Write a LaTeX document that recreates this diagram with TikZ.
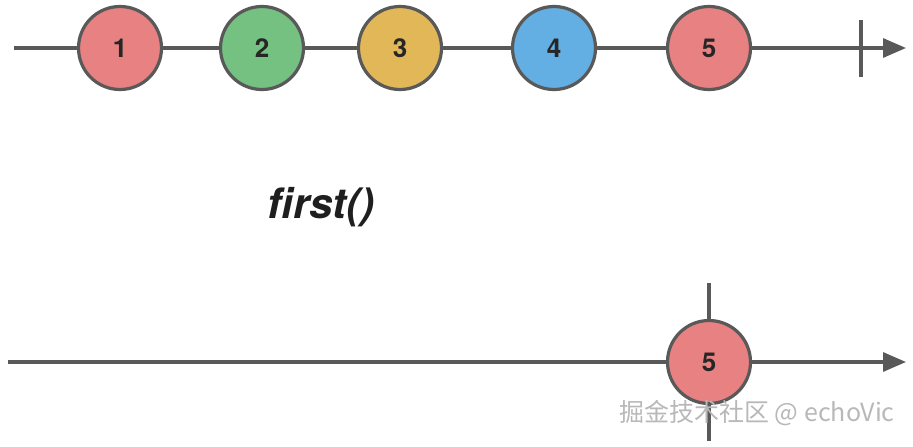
\documentclass[tikz,border=0pt]{standalone}
\usepackage{fontspec}
\setmainfont{TeX Gyre Heros}
\newfontfamily\cjk{Noto Sans CJK SC}
\usetikzlibrary{arrows.meta}
\definecolor{linegray}{HTML}{595959}
\definecolor{mred}{HTML}{E88182}
\definecolor{mgreen}{HTML}{74C181}
\definecolor{myellow}{HTML}{E2B758}
\definecolor{mblue}{HTML}{63AEE3}
\definecolor{wmgray}{HTML}{B8B8B8}
\tikzset{
  marble/.style={circle, draw=linegray, line width=3.2pt, minimum size=83pt, inner sep=0pt,
    font=\fontsize{26}{28}\selectfont\bfseries, text=black!85},
  axis/.style={draw=linegray, line width=3.2pt, -{Triangle[length=23pt,width=19pt]}},
  tick/.style={draw=linegray, line width=3.2pt},
}
\begin{document}
\begin{tikzpicture}[x=1pt,y=-1pt]
\useasboundingbox (0,0) rectangle (913,447);
% top timeline
\coordinate (ts) at (14,48);
\coordinate (te) at (906,48);
\draw[axis] (ts) -- (te);
\coordinate (tk1) at (861,20);
\coordinate (tk2) at (861,77);
\draw[tick] (tk1) -- (tk2);
\node[marble, fill=mred] (m1) at (120,48) {1};
\node[marble, fill=mgreen] (m2) at (262,48) {2};
\node[marble, fill=myellow] (m3) at (400,48) {3};
\node[marble, fill=mblue] (m4) at (554,48) {4};
\node[marble, fill=mred] (m5) at (709,48) {5};
% operator
\node[font=\fontsize{42}{44}\selectfont\bfseries\itshape, text=black!88] (op) at (321,207) {first()};
% bottom timeline
\coordinate (bs) at (8,362);
\coordinate (be) at (906,362);
\draw[axis] (bs) -- (be);
\coordinate (bk1) at (709,283);
\coordinate (bk2) at (709,441);
\draw[tick] (bk1) -- (bk2);
\node[marble, fill=mred] (r5) at (709,362) {5};
% watermark
\node[font=\cjk\fontsize{25}{27}\selectfont, text=wmgray, anchor=center] (wm) at (757,413) {掘金技术社区 @ echoVic};
\end{tikzpicture}
\end{document}
